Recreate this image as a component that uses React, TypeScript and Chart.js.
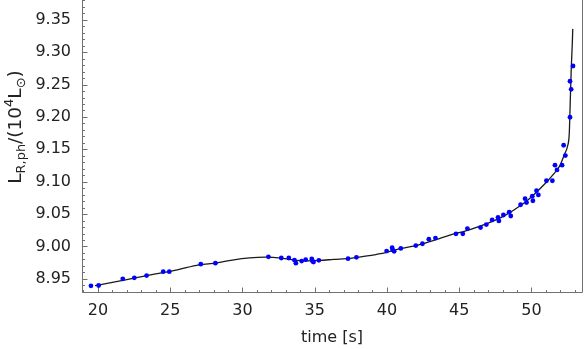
import React, { useEffect, useRef } from "react";
import { Chart, registerables } from "chart.js";

Chart.register(...registerables);

// ---- data ----
const dotTime = [
  19.52, 20.05, 21.72, 22.52, 23.37, 24.52, 24.94, 27.12, 28.13, 31.8,
  32.69, 33.21, 33.6, 33.7, 34.1, 34.38, 34.8, 34.86, 34.92, 35.29,
  37.31, 37.89, 39.98, 40.36, 40.4, 40.5, 40.96, 42.0, 42.46, 42.9,
  43.36, 44.78, 45.25, 45.57, 46.48, 46.88, 47.28, 47.69, 47.75, 48.06,
  48.46, 48.57, 49.25, 49.56, 49.66, 50.06, 50.1, 50.35, 50.48, 51.04,
  51.45, 51.63, 51.77, 52.12, 52.23, 52.35, 52.67, 52.67, 52.75, 52.88,
];
const dotLum = [
  8.9392, 8.9397, 8.95, 8.9515, 8.955, 8.961, 8.961, 8.9727, 8.9742, 8.984,
  8.9822, 8.9822, 8.979, 8.9742, 8.9775, 8.9796, 8.9806, 8.977, 8.976, 8.9786,
  8.9811, 8.9832, 8.9928, 8.998, 8.9948, 8.9925, 8.997, 9.0014, 9.0042, 9.0113,
  9.013, 9.0195, 9.0195, 9.0276, 9.0292, 9.0338, 9.041, 9.045, 9.0395, 9.0486,
  9.053, 9.047, 9.0644, 9.0738, 9.0678, 9.0775, 9.0706, 9.086, 9.0796, 9.1015,
  9.1015, 9.1255, 9.1182, 9.1255, 9.1563, 9.1403, 9.1995, 9.2551, 9.2427, 9.2787,
];
const curveTime = [
  19.8, 21.0, 22.5, 24.0, 25.5, 27.0, 28.2, 29.3, 30.5, 31.6,
  32.7, 33.7, 34.4, 35.3, 36.3, 37.6, 38.8, 39.9, 41.0, 42.2,
  43.4, 44.3, 45.8, 47.0, 48.15, 49.3, 50.0, 50.9, 51.5, 51.95,
  52.3, 52.5, 52.62, 52.69, 52.76, 52.83, 52.86,
];
const curveLum = [
  8.9395, 8.9445, 8.951, 8.9575, 8.964, 8.9716, 8.9745, 8.979, 8.9824, 8.9835,
  8.982, 8.9785, 8.9778, 8.9785, 8.98, 8.982, 8.986, 8.9906, 8.997, 9.0025,
  9.0105, 9.017, 9.0265, 9.036, 9.0477, 9.064, 9.0765, 9.096, 9.111, 9.124,
  9.143, 9.155, 9.175, 9.226, 9.277, 9.314, 9.336,
];
const xTickValues = [20, 25, 30, 35, 40, 45, 50];
const yTickValues = [8.95, 9.0, 9.05, 9.1, 9.15, 9.2, 9.25, 9.3, 9.35];
const xTitle = "time [s]";
const yTitleParts = [
  { t: "L", s: 1, dy: 0 },
  { t: "R,ph", s: 0.7, dy: 0.25 },
  { t: "/(10", s: 1, dy: 0 },
  { t: "4", s: 0.7, dy: -0.42 },
  { t: "L", s: 1, dy: 0 },
  { t: "\u2299", s: 0.7, dy: 0.25 },
  { t: ")", s: 1, dy: 0 },
];

const X_MIN = 18.9;
const X_MAX = 53.5;
const Y_MIN = 8.9289;
const Y_MAX = 9.3806;
const W = 586;
const H = 349;
const SHIFT = 40;
const FONT = "'DejaVu Sans', sans-serif";
const TEXT = "#222222";
const AXIS = "#707070";

const framePlugin = {
  id: "frame",
  beforeDatasetsDraw(chart: any) {
    const { ctx, chartArea: a, scales } = chart;
    const xs = scales.x;
    const ys = scales.y;
    const L = Math.floor(a.left) + 0.5;
    const R = Math.floor(a.right) + 0.5;
    const B = Math.floor(a.bottom) + 0.5;
    ctx.save();
    ctx.strokeStyle = AXIS;
    ctx.lineWidth = 1;
    ctx.beginPath();
    ctx.moveTo(L, 0);
    ctx.lineTo(L, B);
    ctx.lineTo(R, B);
    ctx.lineTo(R, 0);
    ctx.stroke();
    ctx.beginPath();
    for (let v = 19; v <= 53; v++) {
      const px = Math.round(xs.getPixelForValue(v)) + 0.5;
      const len = v % 5 === 0 ? 5 : 2.5;
      ctx.moveTo(px, B);
      ctx.lineTo(px, B - len);
    }
    for (let k = 893; k <= 938; k++) {
      const py = Math.round(ys.getPixelForValue(k / 100)) + 0.5;
      const len = k % 5 === 0 ? 5 : 2.5;
      ctx.moveTo(L, py);
      ctx.lineTo(L + len, py);
    }
    ctx.stroke();
    ctx.restore();
  },
  afterDraw(chart: any) {
    const { ctx } = chart;
    const base = 18.5;
    ctx.save();
    ctx.fillStyle = TEXT;
    ctx.textBaseline = "alphabetic";
    ctx.textAlign = "left";
    let total = 0;
    const widths: number[] = [];
    for (const p of yTitleParts) {
      ctx.font = `${base * p.s}px ${FONT}`;
      const w = ctx.measureText(p.t).width;
      widths.push(w);
      total += w;
    }
    ctx.translate(20.5, 127 + SHIFT);
    ctx.rotate(-Math.PI / 2);
    let x = -total / 2;
    yTitleParts.forEach((p, i) => {
      ctx.font = `${base * p.s}px ${FONT}`;
      ctx.fillText(p.t, x, p.dy * base);
      x += widths[i];
    });
    ctx.restore();
  },
};

export default function App() {
  const ref = useRef<HTMLCanvasElement | null>(null);
  useEffect(() => {
    const canvas = ref.current;
    if (!canvas) return;
    const chart = new Chart(canvas, {
      type: "scatter",
      data: {
        datasets: [
          {
            label: "data",
            data: dotTime.map((t, i) => ({ x: t, y: dotLum[i] })),
            pointRadius: 2.4,
            pointBackgroundColor: "#0000ff",
            pointBorderWidth: 0,
            showLine: false,
          },
          {
            label: "fit",
            data: curveTime.map((t, i) => ({ x: t, y: curveLum[i] })),
            showLine: true,
            pointRadius: 0,
            borderColor: "#1a1a1a",
            borderWidth: 1.3,
            cubicInterpolationMode: "monotone",
          },
        ],
      },
      options: {
        animation: false,
        responsive: false,
        devicePixelRatio: 1,
        layout: { padding: { top: SHIFT, left: 0, right: 1.5, bottom: 0 } },
        plugins: {
          legend: { display: false },
          tooltip: { enabled: false },
        },
        scales: {
          x: {
            type: "linear",
            min: X_MIN,
            max: X_MAX,
            grid: { display: false, drawTicks: false },
            border: { display: false },
            afterBuildTicks: (s: any) => {
              s.ticks = xTickValues.map((v) => ({ value: v }));
            },
            afterFit: (s: any) => {
              s.height = SHIFT + H - 332.5;
            },
            ticks: {
              color: TEXT,
              font: { family: FONT, size: 16 },
              padding: 9,
              maxRotation: 0,
              callback: (v: any) => String(v),
            },
            title: {
              display: true,
              text: xTitle,
              color: TEXT,
              font: { family: FONT, size: 16 },
              padding: { top: 0, bottom: 2 },
            },
          },
          y: {
            type: "linear",
            min: Y_MIN,
            max: Y_MAX,
            grid: { display: false, drawTicks: false },
            border: { display: false },
            afterBuildTicks: (s: any) => {
              s.ticks = yTickValues.map((v) => ({ value: v }));
            },
            afterFit: (s: any) => {
              s.width = 82;
            },
            ticks: {
              color: TEXT,
              font: { family: FONT, size: 16 },
              padding: 11,
              callback: (v: any) => Number(v).toFixed(2),
            },
          },
        },
      },
      plugins: [framePlugin],
    });
    return () => chart.destroy();
  }, []);
  return (
    <div
      style={{
        position: "absolute",
        left: 0,
        top: 0,
        width: W,
        height: H,
        overflow: "hidden",
        background: "#fff",
      }}
    >
      <canvas
        ref={ref}
        width={W}
        height={H + SHIFT}
        style={{ display: "block", marginTop: -SHIFT, width: W, height: H + SHIFT }}
      />
    </div>
  );
}
